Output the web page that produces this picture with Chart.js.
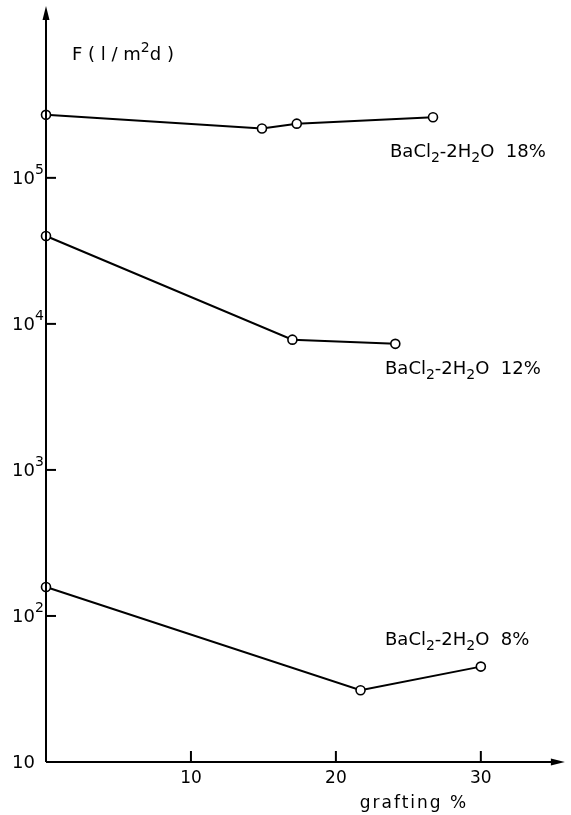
<!DOCTYPE html>
<html>
<head>
  <meta charset="UTF-8">
  <title>F vs grafting</title>
  <script src="https://cdn.jsdelivr.net/npm/chart.js"></script>
  <style>
    html, body { margin: 0; padding: 0; background: #fff; }
    canvas { display: block; }
  </style>
</head>
<body>
  <canvas id="chart" width="571" height="815"></canvas>

  <script>
    // grafting % (x) and flux F in l/m2d (y)
    const x18 = [0, 14.9, 17.3, 26.7];
    const y18 = [270000, 218000, 235000, 260000];
    const x12 = [0, 17.0, 24.1];
    const y12 = [40000, 7800, 7300];
    const x8 = [0, 21.7, 30.0];
    const y8 = [158, 31, 45];

    const seriesNames = ['18%', '12%', '8%'];

    const xTickValues = [10, 20, 30];
    const yTickValues = [10, 100, 1000, 10000, 100000];
    const yTickExp = ['', '2', '3', '4', '5'];

    const FONT = '"DejaVu Sans", sans-serif';

    function toPoints(xs, ys) {
      return xs.map((x, i) => ({ x: x, y: ys[i] }));
    }

    function line(data) {
      return {
        data: data,
        showLine: true,
        clip: false,
        borderColor: '#000',
        borderWidth: 2,
        pointRadius: 4.5,
        pointBackgroundColor: '#fff',
        pointBorderColor: '#000',
        pointBorderWidth: 1.6,
        tension: 0
      };
    }

    // text with sub/superscript parts: [text, shift] shift -1 sub, 1 sup
    function drawRich(ctx, x, y, parts, size) {
      let cx = x;
      for (const [t, shift] of parts) {
        const fs = shift ? Math.round(size * 0.78) : size;
        ctx.font = fs + 'px ' + FONT;
        const dy = shift === -1 ? size * 0.3 : shift === 1 ? -size * 0.42 : 0;
        ctx.fillText(t, cx, y + dy);
        cx += ctx.measureText(t).width;
      }
    }

    const axesPlugin = {
      id: 'axesPlugin',
      afterDraw(chart) {
        const ctx = chart.ctx;
        const xs = chart.scales.x, ys = chart.scales.y;
        const a = chart.chartArea;
        const x0 = xs.getPixelForValue(0);
        const y0 = ys.getPixelForValue(10);
        ctx.save();
        ctx.strokeStyle = '#000';
        ctx.fillStyle = '#000';
        ctx.lineWidth = 2;

        // axes
        ctx.beginPath();
        ctx.moveTo(x0, y0); ctx.lineTo(x0, a.top + 10);
        ctx.moveTo(x0, y0); ctx.lineTo(a.right - 10, y0);
        ctx.stroke();
        // arrow heads
        ctx.beginPath();
        ctx.moveTo(x0, a.top); ctx.lineTo(x0 - 3.5, a.top + 14); ctx.lineTo(x0 + 3.5, a.top + 14);
        ctx.closePath(); ctx.fill();
        ctx.beginPath();
        ctx.moveTo(a.right, y0); ctx.lineTo(a.right - 14, y0 - 3.5); ctx.lineTo(a.right - 14, y0 + 3.5);
        ctx.closePath(); ctx.fill();

        // x ticks
        ctx.textAlign = 'center';
        ctx.textBaseline = 'alphabetic';
        ctx.font = '17px ' + FONT;
        for (const v of xTickValues) {
          const px = xs.getPixelForValue(v);
          ctx.beginPath();
          ctx.moveTo(px, y0); ctx.lineTo(px, y0 - 11);
          ctx.stroke();
          ctx.fillText(String(v), px, y0 + 21);
        }

        // y ticks
        yTickValues.forEach((v, i) => {
          const py = ys.getPixelForValue(v);
          if (v !== 10) {
            ctx.beginPath();
            ctx.moveTo(x0, py); ctx.lineTo(x0 + 10, py);
            ctx.stroke();
          }
          ctx.textAlign = 'right';
          ctx.font = '18px ' + FONT;
          ctx.fillText('10', 35, py + 6);
          if (yTickExp[i]) {
            ctx.textAlign = 'left';
            ctx.font = '14px ' + FONT;
            ctx.fillText(yTickExp[i], 35, py - 4);
          }
        });

        // axis titles
        ctx.textAlign = 'left';
        drawRich(ctx, 72, 60, [['F ( l / m', 0], ['2', 1], ['d )', 0]], 18);
        ctx.textAlign = 'center';
        ctx.font = '17px ' + FONT;
        ctx.letterSpacing = '2px';
        ctx.fillText('grafting %', 414, 808);
        ctx.letterSpacing = '0px';

        // series labels
        ctx.textAlign = 'left';
        const labelPos = [[390, 157], [385, 374], [385, 645]];
        seriesNames.forEach((n, i) => {
          const [lx, ly] = labelPos[i];
          drawRich(ctx, lx, ly, [['BaCl', 0], ['2', -1], ['-2H', 0], ['2', -1], ['O  ' + n, 0]], 18);
        });
        ctx.restore();
      }
    };

    new Chart(document.getElementById('chart'), {
      type: 'scatter',
      data: {
        datasets: [
          line(toPoints(x18, y18)),
          line(toPoints(x12, y12)),
          line(toPoints(x8, y8))
        ]
      },
      options: {
        responsive: false,
        animation: false,
        devicePixelRatio: 1,
        layout: { padding: { top: 5, right: 3, left: 0, bottom: 0 } },
        plugins: { legend: { display: false }, tooltip: { enabled: false } },
        scales: {
          x: {
            type: 'linear',
            min: 0,
            max: 35.8,
            grid: { display: false },
            border: { display: false },
            ticks: { display: false },
            afterFit(s) { s.height = 53; }
          },
          y: {
            type: 'logarithmic',
            min: 10,
            max: 1500000,
            grid: { display: false },
            border: { display: false },
            ticks: { display: false },
            afterFit(s) { s.width = 46; }
          }
        }
      },
      plugins: [axesPlugin]
    });
  </script>
</body>
</html>
